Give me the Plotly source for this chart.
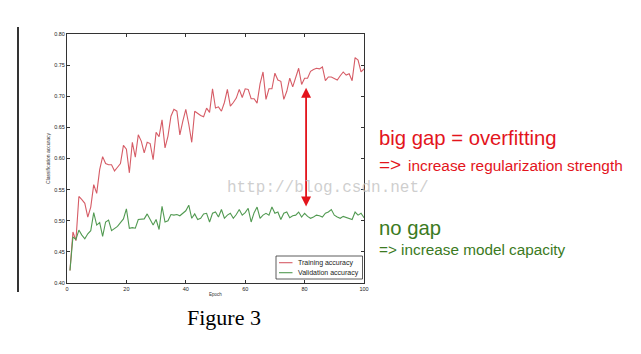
import plotly.graph_objects as go

epochs = list(range(1, 101))

training_accuracy = [
    0.420, 0.482, 0.468, 0.539, 0.534, 0.528, 0.506, 0.522, 0.558, 0.544,
    0.582, 0.603, 0.592, 0.590, 0.590, 0.580, 0.586, 0.592, 0.621, 0.615,
    0.577, 0.626, 0.602, 0.638, 0.628, 0.609, 0.626, 0.624, 0.598, 0.642,
    0.635, 0.662, 0.617, 0.636, 0.668, 0.679, 0.676, 0.638, 0.660, 0.679,
    0.655, 0.626, 0.676, 0.672, 0.669, 0.667, 0.681, 0.674, 0.712, 0.681,
    0.683, 0.676, 0.690, 0.711, 0.684, 0.690, 0.697, 0.711, 0.698, 0.712,
    0.711, 0.696, 0.696, 0.689, 0.720, 0.739, 0.695, 0.712, 0.712, 0.737,
    0.726, 0.724, 0.695, 0.708, 0.729, 0.715, 0.729, 0.745, 0.719, 0.729,
    0.729, 0.740, 0.743, 0.745, 0.744, 0.747, 0.725, 0.731, 0.731, 0.729,
    0.726, 0.733, 0.739, 0.734, 0.736, 0.725, 0.762, 0.758, 0.739, 0.744,
]

validation_accuracy = [
    0.420, 0.474, 0.470, 0.485, 0.477, 0.471, 0.479, 0.484, 0.513, 0.493,
    0.497, 0.475, 0.498, 0.501, 0.484, 0.487, 0.491, 0.497, 0.503, 0.519,
    0.488, 0.489, 0.488, 0.502, 0.502, 0.503, 0.511, 0.501, 0.493, 0.502,
    0.486, 0.523, 0.498, 0.500, 0.510, 0.509, 0.510, 0.508, 0.512, 0.516,
    0.525, 0.504, 0.511, 0.502, 0.504, 0.511, 0.512, 0.498, 0.512, 0.514,
    0.506, 0.518, 0.504, 0.509, 0.512, 0.504, 0.510, 0.518, 0.509, 0.513,
    0.520, 0.498, 0.513, 0.522, 0.504, 0.509, 0.512, 0.509, 0.522, 0.512,
    0.514, 0.502, 0.512, 0.514, 0.505, 0.508, 0.509, 0.514, 0.506, 0.512,
    0.507, 0.504, 0.506, 0.509, 0.508, 0.506, 0.512, 0.514, 0.518, 0.509,
    0.506, 0.504, 0.507, 0.505, 0.504, 0.502, 0.514, 0.509, 0.512, 0.505,
]

series_names = ["Training accuracy", "Validation accuracy"]
x_ticks = [0, 20, 40, 60, 80, 100]
y_ticks = [0.40, 0.45, 0.50, 0.55, 0.60, 0.65, 0.70, 0.75, 0.80]

W, H = 641, 354
ML, MR, MT, MB = 67, 277, 34, 71
PW = W - ML - MR
PH = H - MT - MB


def px(xp):
    return (xp - ML) / PW


def py(yp):
    return (H - MB - yp) / PH


RED_LINE = "#d65c66"
GREEN_LINE = "#529a52"
RED_TEXT = "#e3141c"
GREEN_TEXT = "#3b7a22"
SANS = "Liberation Sans, Arial, sans-serif"
line_colors = [RED_LINE, GREEN_LINE]

fig = go.Figure()
for name, vals, col in zip(series_names, [training_accuracy, validation_accuracy], line_colors):
    fig.add_trace(go.Scatter(x=epochs, y=vals, mode="lines", name=name,
                             showlegend=False,
                             line=dict(color=col, width=1.1)))

axis_common = dict(
    showline=True, linecolor="#333333", linewidth=1, mirror="allticks",
    ticks="inside", ticklen=3, tickwidth=0.8, tickcolor="#333333",
    showgrid=False, zeroline=False,
    tickfont=dict(family=SANS, size=5.5, color="#222222"),
)

fig.update_layout(
    width=W, height=H,
    margin=dict(l=ML, r=MR, t=MT, b=MB, autoexpand=False),
    paper_bgcolor="white", plot_bgcolor="white",
    xaxis=dict(range=[0, 100], tickvals=x_ticks,
               title=dict(text="Epoch", font=dict(family=SANS, size=4.5, color="#333"), standoff=2),
               **axis_common),
    yaxis=dict(range=[0.40, 0.80], tickvals=y_ticks, tickformat=".2f",
               title=dict(text="Classification accuracy", font=dict(family=SANS, size=5, color="#333"), standoff=3),
               **axis_common),
    showlegend=False,
)

# legend box (drawn to match the compact matplotlib legend)
fig.add_shape(type="rect", xref="paper", yref="paper",
              x0=px(276), x1=px(362.5), y0=py(279), y1=py(256),
              line=dict(color="#333333", width=0.8), fillcolor="white", layer="above")
for i, (name, col) in enumerate(zip(series_names, line_colors)):
    yy = 262.7 + 10 * i
    fig.add_shape(type="line", xref="paper", yref="paper",
                  x0=px(279), x1=px(292.5), y0=py(yy), y1=py(yy),
                  line=dict(color=col, width=1.1), layer="above")
    fig.add_annotation(x=px(296.5), y=py(yy), xref="paper", yref="paper",
                       text=name, showarrow=False, xanchor="left", yanchor="middle",
                       borderpad=0, font=dict(family=SANS, size=7, color="#222222"))

# left border line
fig.add_shape(type="line", xref="paper", yref="paper",
              x0=px(18), x1=px(18), y0=py(27), y1=py(292),
              line=dict(color="black", width=1.6))

# double-headed arrow showing the gap
fig.add_annotation(x=80.5, y=0.523, ax=80.5, ay=0.716, xref="x", yref="y",
                   axref="x", ayref="y", text="", showarrow=True,
                   arrowhead=2, arrowside="end+start", arrowsize=1.1,
                   arrowwidth=1.8, arrowcolor=RED_TEXT)

texts = [
    ("big gap = overfitting", 378, 138, 20.3, RED_TEXT, SANS),
    ("=&gt;", 377.5, 164.5, 19, RED_TEXT, SANS),
    ("increase regularization strength", 407, 165, 15.4, RED_TEXT, SANS),
    ("no gap", 378, 228, 20.3, GREEN_TEXT, SANS),
    ("=&gt; increase model capacity", 377.5, 249.7, 15.3, GREEN_TEXT, SANS),
    ("Figure 3", 186, 317, 22, "black", "Liberation Serif, Times New Roman, serif"),
]
for t, xp, yp, size, color, fam in texts:
    fig.add_annotation(x=px(xp), y=py(yp), xref="paper", yref="paper",
                       text=t, showarrow=False, xanchor="left", yanchor="middle",
                       borderpad=0, font=dict(family=fam, size=size, color=color))

# watermark
fig.add_annotation(x=px(226), y=py(188), xref="paper", yref="paper",
                   text="http://blog.csdn.net/", showarrow=False,
                   xanchor="left", yanchor="middle", borderpad=0,
                   font=dict(family="Liberation Mono, Courier New, monospace", size=16,
                             color="rgba(190,190,190,0.75)"))

fig.write_html("out.html")
